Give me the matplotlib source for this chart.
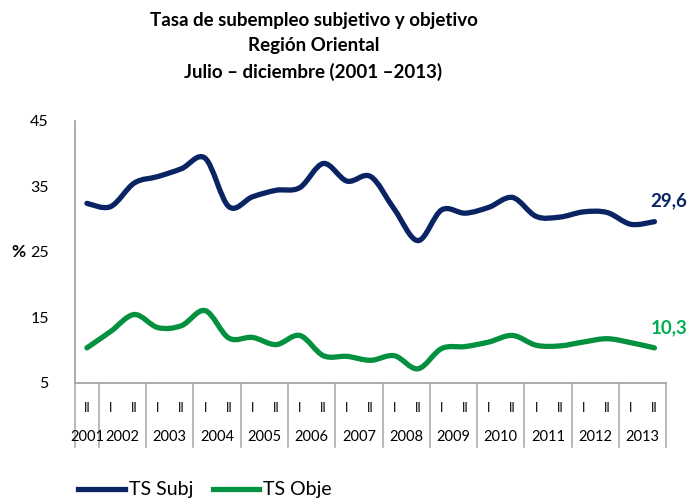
import numpy as np
import matplotlib
matplotlib.use("Agg")
from matplotlib import pyplot as plt
from matplotlib.path import Path
from matplotlib.patches import PathPatch
from matplotlib.lines import Line2D
import matplotlib.transforms as mtransforms

plt.rcParams['font.family'] = ['Lato', 'DejaVu Sans']

# semesters 2001-II ... 2013-II
semesters = ['II'] + ['I', 'II'] * 12
years = ['2001', '2002', '2003', '2004', '2005', '2006', '2007',
         '2008', '2009', '2010', '2011', '2012', '2013']
ts_subj = [32.4, 31.9, 35.5, 36.5, 37.7, 39.3, 31.9, 33.4, 34.4, 34.8, 38.5, 35.8, 36.5,
           31.5, 26.7, 31.4, 30.9, 31.8, 33.3, 30.4, 30.3, 31.1, 31.0, 29.2, 29.6]
ts_obje = [10.3, 12.8, 15.4, 13.4, 13.7, 16.0, 11.8, 11.9, 10.8, 12.2, 9.1, 9.0, 8.4,
           9.1, 7.1, 10.2, 10.5, 11.2, 12.2, 10.7, 10.6, 11.2, 11.7, 11.1, 10.3]
yticks = [5, 15, 25, 35, 45]

navy = '#0A2463'
green = '#04913F'
green_lbl = '#00B050'
gray = '#A6A6A6'


def smooth_path(x, y):
    # excel-like smoothed line, cubic bezier through every point
    p = np.column_stack([x, y]).astype(float)
    ext = np.vstack([p[0], p, p[-1]])
    verts = [p[0]]
    codes = [Path.MOVETO]
    for i in range(len(p) - 1):
        p0, p1, p2, p3 = ext[i], ext[i + 1], ext[i + 2], ext[i + 3]
        verts += [p1 + (p2 - p0) / 6, p2 - (p3 - p1) / 6, p2]
        codes += [Path.CURVE4] * 3
    return Path(verts, codes)


fig = plt.figure(figsize=(6.89, 5.04), dpi=100)
ax = fig.add_axes([0.109, 0.241, 0.858, 0.519])

x = np.arange(len(semesters))
for vals, col in [(ts_subj, navy), (ts_obje, green)]:
    ax.add_patch(PathPatch(smooth_path(x, vals), facecolor='none', edgecolor=col,
                           lw=3.8, capstyle='round', joinstyle='round'))

ax.set_xlim(-0.5, len(semesters) - 0.5)
ax.set_ylim(5, 45)
ax.set_yticks(yticks)
ax.set_xticks([])
ax.tick_params(axis='y', length=0, pad=19, labelsize=11.5)
for s in ['top', 'right']:
    ax.spines[s].set_visible(False)
for s in ['left', 'bottom']:
    ax.spines[s].set_color(gray)
    ax.spines[s].set_linewidth(1.3)

ax.text(-0.096, 0.5, '%', transform=ax.transAxes, fontsize=12.5, fontweight='bold',
        ha='center', va='center')

# multi-level category axis
trans = mtransforms.blended_transform_factory(ax.transData, ax.transAxes)
seps = [-0.5, 0.5] + [0.5 + 2 * k for k in range(1, 13)]
for sx in seps:
    ax.plot([sx, sx], [0, -0.245], color=gray, lw=1.1, transform=trans, clip_on=False)
for i, s in enumerate(semesters):
    ax.text(i, -0.097, s, transform=trans, ha='center', va='center', fontsize=9)
year_pos = [0] + [1.5 + 2 * k for k in range(12)]
for xp, yr in zip(year_pos, years):
    ax.text(xp, -0.21, yr, transform=trans, ha='center', va='center', fontsize=10.5)

# end labels
ax.text(len(x) - 1 + 0.6, ts_subj[-1] + 3.2, '29,6', color=navy, fontsize=13.5,
        fontweight='bold', ha='center', va='center', clip_on=False)
ax.text(len(x) - 1 + 0.6, ts_obje[-1] + 3.1, '10,3', color=green_lbl, fontsize=13.5,
        fontweight='bold', ha='center', va='center', clip_on=False)

fig.text(0.455, 0.977, 'Tasa de subempleo subjetivo y objetivo\nRegión Oriental\n'
         'Julio – diciembre (2001 –2013)', ha='center', va='top', fontsize=13.5,
         fontweight='bold', linespacing=1.6)

handles = [Line2D([], [], color=navy, lw=3.8), Line2D([], [], color=green, lw=3.8)]
fig.legend(handles, ['TS Subj', 'TS Obje'], loc='center left',
           bbox_to_anchor=(0.088, 0.028), ncol=2, frameon=False, fontsize=14,
           handlelength=2.4, handletextpad=0.2, columnspacing=1.0)

fig.savefig('out.png', dpi=100)
